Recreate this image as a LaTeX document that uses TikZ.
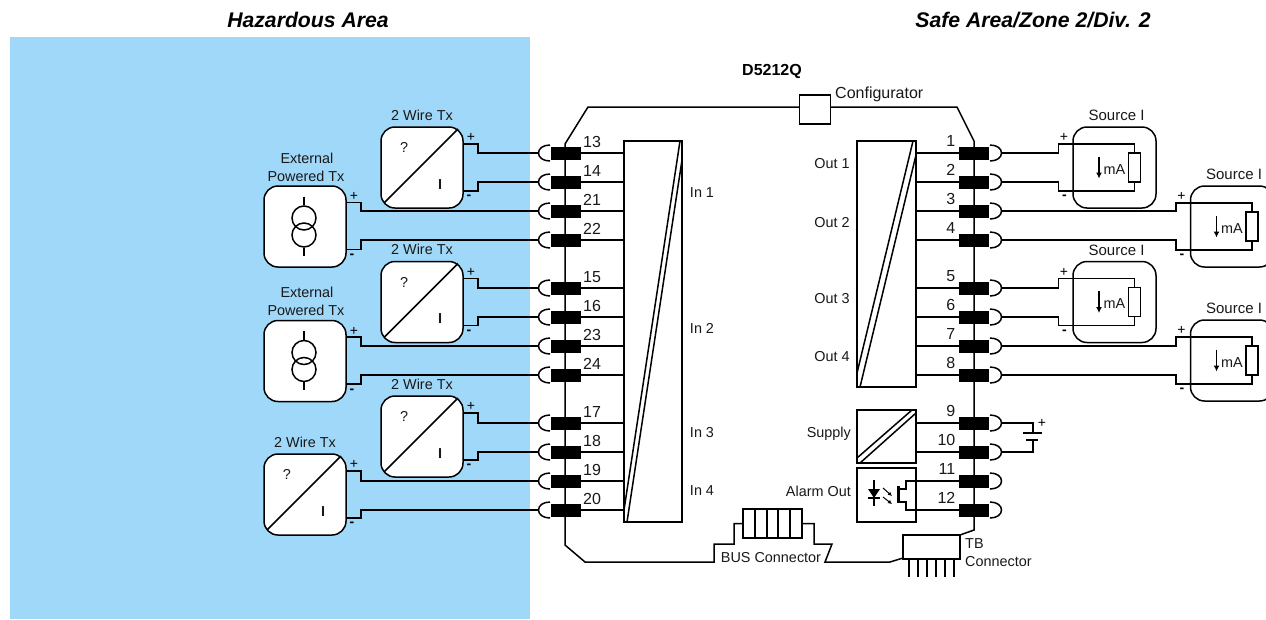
\documentclass[tikz,border=0pt]{standalone}
\usepackage{fontspec}
\setmainfont{Liberation Sans}
\usetikzlibrary{arrows.meta}
\definecolor{hazblue}{HTML}{A0D8F9}
\newcommand{\ftxt}{\fontsize{14.4}{16}\selectfont}
\newcommand{\fnum}{\fontsize{16}{18}\selectfont}
\newcommand{\fpm}{\fontsize{14}{16}\selectfont}
\tikzset{
  x=1pt,y=-1pt,
  wire/.style={line width=1.5pt,line join=miter},
  boxnode/.style={draw,line width=1.5pt,fill=white,inner sep=0pt,outer sep=0pt},
  roundbox/.style={boxnode,rounded corners=14pt,minimum width=82pt,minimum height=81pt},
  termbar/.style={fill=black,inner sep=0pt,outer sep=0pt,minimum width=30pt,minimum height=13pt},
  lab/.style={font=\ftxt,inner sep=0pt,text=black!90},
  numlab/.style={font=\fnum,inner sep=0pt,text=black!90},
  pm/.style={font=\fpm,inner sep=0pt},
  mi/.style={font=\fpm\bfseries,inner sep=0pt},
}
% left terminal: name, y
\newcommand{\lterm}[2]{%
  \draw[wire] (550,#2-8) .. controls (543,#2-8) and (538.5,#2-4.5) .. (538.5,#2) .. controls (538.5,#2+4.5) and (543,#2+8) .. (550,#2+8);
  \coordinate (Lh#1) at (538.5,#2);
  \coordinate (Li#1) at (624,#2);
  \node[termbar] (L#1) at (566,#2) {};
  \draw[wire] (L#1.east) -- (Li#1);
  \node[numlab,anchor=west] (Lt#1) at (583,#2-11) {#1};
}
% right terminal: name, y
\newcommand{\rterm}[2]{%
  \draw[wire] (990,#2-8) .. controls (997,#2-8) and (1001.5,#2-4.5) .. (1001.5,#2) .. controls (1001.5,#2+4.5) and (997,#2+8) .. (990,#2+8);
  \coordinate (Rh#1) at (1001.5,#2);
  \node[termbar] (R#1) at (974,#2) {};
  \node[numlab,anchor=east] (Rt#1) at (955.5,#2-12) {#1};
}
% two-wire transmitter: name, cx, cy, terminal +, terminal -
\newcommand{\twotx}[5]{%
  \node[roundbox] (#1) at (#2,#3) {};
  \draw[line width=1.5pt] (#2+36,#3-38.5) -- (#2-38,#3+35.5);
  \node[lab] (#1q) at (#2-18,#3-20) {?};
  \node[lab,font=\ftxt\bfseries] (#1i) at (#2+18,#3+17) {I};
  \node[lab] (#1l) at (#2,#3-52.5) {2 Wire Tx};
  \node[pm] (#1pl) at (#2+49,#3-30) {+};
  \node[mi] (#1mi) at (#2+47,#3+30) {-};
  \coordinate (#1p) at (#2+41,#3-23.5);
  \coordinate (#1m) at (#2+41,#3+23.5);
  \draw[wire] (#1p) -- ++(15,0) |- (Lh#4);
  \draw[wire] (#1m) -- ++(15,0) |- (Lh#5);
}
% external powered transmitter
\newcommand{\exttx}[5]{%
  \node[roundbox] (#1) at (#2,#3) {};
  \node[draw,circle,line width=1.5pt,minimum size=24pt,inner sep=0pt] (#1a) at (#2-1,#3-8.5) {};
  \node[draw,circle,line width=1.5pt,minimum size=24pt,inner sep=0pt] (#1b) at (#2-1,#3+8.5) {};
  \coordinate (#1at) at (#2-1,#3-30);
  \coordinate (#1bt) at (#2-1,#3+29);
  \draw[line width=1.5pt] (#1at) -- (#1a.north);
  \draw[line width=1.5pt] (#1b.south) -- (#1bt);
  \node[lab] (#1l1) at (#2+2,#3-68.5) {External};
  \node[lab] (#1l2) at (#2+1,#3-50.5) {Powered Tx};
  \node[pm] (#1pl) at (#2+49,#3-30) {+};
  \node[mi] (#1mi) at (#2+47,#3+30) {-};
  \coordinate (#1p) at (#2+41,#3-24);
  \coordinate (#1m) at (#2+41,#3+23);
  \draw[wire] (#1p) -- ++(15,0) |- (Lh#4);
  \draw[wire] (#1m) -- ++(15,0) |- (Lh#5);
}
% current source: name, cx, cy, terminal +, terminal -, 
\newcommand{\srcbox}[5]{%
  \node[roundbox,minimum width=83pt] (#1) at (#2,#3) {};
  \node[lab,font=\fontsize{15}{17}\selectfont] (#1l) at (#2+2,#3-52) {Source I};
  \node[boxnode,draw,minimum width=12pt,minimum height=29pt] (#1r) at (#2+20,#3) {};
  \coordinate (#1a) at (#2-56,#3-23.5);
  \coordinate (#1b) at (#2-56,#3+23.5);
  \draw[wire] (Rh#4) -| (#1a) -| (#1r.north);
  \draw[wire] (Rh#5) -| (#1b) -| (#1r.south);
  \coordinate (#1u) at (#2-15.5,#3-11);
  \coordinate (#1d) at (#2-15.5,#3+11);
  \draw[line width=1.5pt,-{Latex[length=6pt,width=6pt]}] (#1u) -- (#1d);
  \node[lab] (#1ma) at (#2,#3+2) {mA};
  \node[pm] (#1pl) at (#2-50.5,#3-30) {+};
  \node[mi] (#1mi) at (#2-50,#3+30) {-};
}
\begin{document}
\begin{tikzpicture}
\clip (0,0) rectangle (1266,619);
\fill[white] (0,0) rectangle (1266,619);
\fill[hazblue] (10,37) rectangle (530,619);
\node[font=\fontsize{21.2}{24}\selectfont\bfseries\itshape,inner sep=0pt] (hz) at (308,20) {Hazardous Area};
\node[font=\fontsize{21.2}{24}\selectfont\bfseries\itshape,inner sep=0pt] (sf) at (1033,20) {Safe Area/Zone 2/Div. 2};
\node[font=\fnum\bfseries,inner sep=0pt] (dev) at (772,71.5) {D5212Q};

% bus and configurator
\node[boxnode,minimum width=31pt,minimum height=29pt] (cfg) at (815,109.5) {};
\node[lab,font=\fnum,anchor=west] (cfgt) at (835,94) {Configurator};
\node[boxnode,minimum width=59pt,minimum height=29pt] (busc) at (772.5,523.5) {};
\node[boxnode,minimum width=57pt,minimum height=24pt] (tbc) at (931.5,547) {};
\coordinate (lt1) at (588,107);
\coordinate (lt2) at (565,144);
\coordinate (lb1) at (565,545);
\coordinate (lb2) at (585,562);
\coordinate (lb3) at (714,562);
\coordinate (lb4) at (714,544);
\coordinate (lb5) at (734,544);
\coordinate (lb6) at (734,523.5);
\coordinate (rt1) at (957,107);
\coordinate (rt2) at (974,141);
\coordinate (rb1) at (974,530);
\coordinate (rb2) at (960,535);
\coordinate (mb1) at (814,523.5);
\coordinate (mb2) at (814,544);
\coordinate (mb3) at (832,544);
\coordinate (mb4) at (825,562);
\coordinate (mb5) at (890,562);
\coordinate (mb6) at (903,558);
\draw[wire] (cfg.west |- lt1) -- (lt1) -- (lt2) -- (lb1) -- (lb2) -- (lb3) -- (lb4) -- (lb5) -- (lb6) -- (busc.west);
\draw[wire] (cfg.east |- rt1) -- (rt1) -- (rt2) -- (rb1) -- (rb2);
\draw[wire] (busc.east) -- (mb1) -- (mb2) -- (mb3) -- (mb4) -- (mb5) -- (mb6);
\foreach \xx in {755,767,778,790} \draw[line width=1.5pt] (\xx,509) -- (\xx,538);
\foreach \xx in {909,918,927,936,945,954} \draw[line width=1.5pt] (\xx,559) -- (\xx,577);
\node[lab] (bust) at (771,558) {BUS Connector};
\node[lab,anchor=west] (tb1) at (965,544) {TB};
\node[lab,anchor=west] (tb2) at (965,562) {Connector};

% terminals
\foreach \n/\yy in {13/153,14/182,21/211,22/240,15/288,16/317,23/346,24/375,17/423,18/452,19/481,20/510} {\lterm{\n}{\yy}}
\foreach \n/\yy in {1/153,2/182,3/211,4/240,5/288,6/317,7/346,8/375,9/423,10/452,11/481,12/510} {\rterm{\n}{\yy}}

% input isolator
\node[boxnode,minimum width=58pt,minimum height=381pt] (inb) at (653,331.5) {};
\coordinate (ina) at (680,141);
\coordinate (inc) at (624,510);
\coordinate (ind) at (682,160);
\coordinate (ine) at (627,522);
\draw[line width=1.5pt] (ina) -- (inc) (ind) -- (ine);
\foreach \nm/\yy/\tt in {ia/193/In 1,ib/328/In 2,ic/433/In 3,id/491/In 4} {\node[lab] (\nm) at (702,\yy) {\tt};}

% output isolator
\node[boxnode,minimum width=59pt,minimum height=246pt] (outb) at (886.5,264) {};
\coordinate (ota) at (913,141);
\coordinate (otb) at (857,373);
\coordinate (otc) at (916,155);
\coordinate (otd) at (860,387);
\draw[line width=1.5pt] (ota) -- (otb) (otc) -- (otd);
\foreach \nm/\yy/\tt in {oa/164/Out 1,ob/222.5/Out 2,oc/299/Out 3,od/357/Out 4} {\node[lab] (\nm) at (832,\yy) {\tt};}
\foreach \n in {1,2,3,4,5,6,7,8} {\draw[wire] (R\n.west) -- (outb.east |- R\n);}

% supply
\node[boxnode,minimum width=59pt,minimum height=53pt] (sup) at (886.5,436.5) {};
\coordinate (sa) at (857,458);
\coordinate (sb) at (912,410);
\coordinate (sc) at (860,463);
\coordinate (sd) at (916,413);
\draw[line width=1.5pt] (sa) -- (sb) (sc) -- (sd);
\draw[wire] (R9.west) -- (sup.east |- R9);
\draw[wire] (R10.west) -- (sup.east |- R10);
\node[lab,anchor=east] (supt) at (851,433.5) {Supply};
\coordinate (bt1) at (1033,433);
\coordinate (bt2) at (1033,440);
\draw[wire] (Rh9) -| (bt1);
\draw[wire] (Rh10) -| (bt2);
\draw[line width=1.5pt] (1023,433) -- (1042,433);
\draw[line width=1.5pt] (1026,440) -- (1038,440);
\node[pm] (bpl) at (1042,423) {+};

% alarm
\node[boxnode,minimum width=59pt,minimum height=54pt] (alm) at (886.5,495) {};
\node[lab,anchor=east] (almt) at (851,491) {Alarm Out};
\draw[line width=1.5pt] (874,480) -- (874,506);
\fill (868,489) -- (880,489) -- (874,498) -- cycle;
\draw[line width=1.5pt] (868,498) -- (880,498);
\draw[line width=1pt,-{Latex[length=4pt,width=4pt]}] (883,488) -- (892,496);
\draw[line width=1pt,-{Latex[length=4pt,width=4pt]}] (883,497) -- (892,504);
\draw[line width=3pt] (898,486) -- (898,503);
\draw[wire] (R11.west) -- (906,481) -- (906,489) -- (898,489);
\draw[wire] (R12.west) -- (906,510) -- (906,502) -- (898,502);

% field devices
\twotx{txa}{422}{167.5}{13}{14}
\exttx{exa}{305}{226.5}{21}{22}
\twotx{txb}{422}{302}{15}{16}
\exttx{exb}{305}{361}{23}{24}
\twotx{txc}{422}{436.5}{17}{18}
\twotx{txd}{305}{494.5}{19}{20}

\srcbox{sra}{1114.5}{167.5}{1}{2}
\srcbox{srb}{1232}{226.5}{3}{4}
\srcbox{src}{1114.5}{302}{5}{6}
\srcbox{srd}{1232}{360.5}{7}{8}
\end{tikzpicture}
\end{document}
